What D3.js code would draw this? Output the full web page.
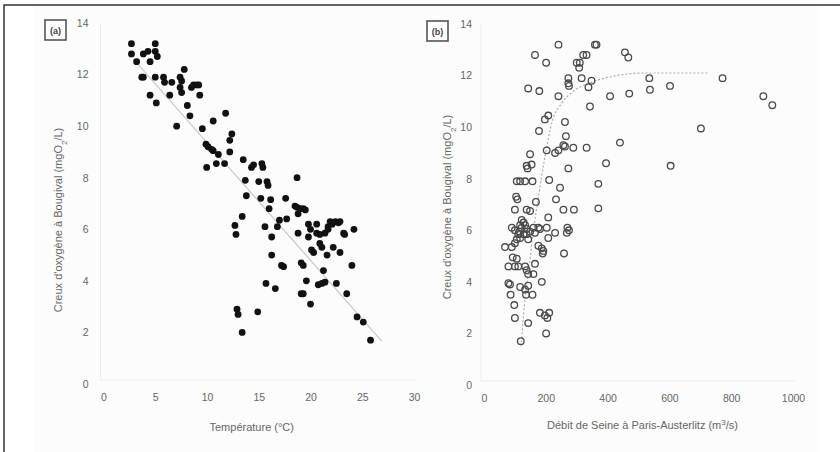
<!DOCTYPE html>
<html>
<head>
<meta charset="utf-8">
<style>
    body { margin: 0; background: white; }
    text { font-family: "Liberation Sans", Arial, sans-serif; fill: #666; }
    .titre { font-size: 11px; }
</style>
</head>
<body>
<div id="plateau"></div>
<script src="https://cdn.jsdelivr.net/npm/d3@7"></script>
<script>

//////////////////// donnees (a) ////////////////////
let tempA = [2.7, 2.7, 3.2, 3.85, 4.3, 4.5, 5.0, 5.0, 5.2, 3.7, 3.85, 5.0, 4.5, 5.1, 5.8, 5.9, 6.6, 6.4,
    7.4, 7.55, 7.4, 7.55, 7.8, 7.07, 8.1, 8.35, 8.5, 8.7, 9.0, 9.2, 9.3, 9.55, 9.9, 10.1, 10.45, 10.6,
    9.97, 10.6, 10.9, 11.1, 11.7, 11.8, 12.2, 12.2, 12.4, 12.7, 12.8, 12.9, 13.0, 13.4, 13.4, 13.5,
    13.7, 13.8, 14.3, 14.5, 15.0, 14.9, 15.2, 15.3, 15.4, 15.6, 15.7, 15.8, 15.9, 16.0, 16.15, 16.25,
    16.25, 16.6, 16.8, 17.0, 17.2, 17.4, 17.6, 17.7, 18.7, 18.5, 18.7, 18.8, 19.0, 19.3, 19.5, 18.8,
    19.1, 19.3, 19.1, 19.3, 19.6, 19.8, 20.0, 19.8, 20.0, 20.1, 20.3, 20.6, 20.6, 20.9, 20.75, 21.1,
    20.9, 21.1, 21.25, 21.4, 21.6, 21.4, 21.7, 21.9, 22.1, 22.4, 22.7, 22.85, 21.7, 22.2, 22.5, 22.85,
    23.2, 23.3, 23.5, 24.0, 24.2, 24.5, 25.1, 25.8];
let oxyA = [13.2, 12.8, 12.5, 12.8, 12.9, 12.5, 13.2, 12.9, 12.7, 11.9, 11.9, 11.9, 11.2, 10.9, 11.9, 11.7, 11.7, 11.2,
    11.9, 11.75, 11.5, 11.3, 12.2, 10.0, 10.8, 10.4, 11.5, 11.6, 11.6, 11.6, 11.2, 9.9, 9.3, 9.2, 9.1, 9.05,
    8.4, 10.2, 8.55, 8.9, 8.55, 10.5, 9.0, 9.45, 9.7, 6.15, 5.8, 2.9, 2.7, 2.0, 6.5, 8.7,
    7.9, 7.3, 8.4, 8.5, 7.85, 2.8, 7.2, 8.55, 8.4, 6.1, 3.9, 7.85, 7.7, 6.8, 7.15, 5.7,
    5.0, 3.7, 6.1, 6.35, 4.6, 4.55, 7.2, 6.4, 8.0, 6.9, 6.85, 6.6, 6.8, 6.8, 6.75, 5.85,
    4.7, 4.6, 3.5, 3.5, 4.0, 6.2, 6.0, 5.7, 3.1, 5.2, 5.1, 6.2, 5.85, 5.8, 3.85, 3.9,
    5.45, 5.3, 4.4, 3.95, 5.0, 5.85, 6.1, 6.3, 6.2, 6.3, 6.25, 6.3, 6.0, 5.3, 3.9, 5.1,
    5.85, 5.8, 3.5, 4.6, 6.0, 2.6, 2.4, 1.7];
// droite de regression
let fitTempA = [2.9, 26.9];
let fitOxyA = [12.6, 1.65];

//////////////////// donnees (b) ////////////////////
let debitB = [241, 165, 201, 300, 310, 321, 308, 332, 359, 364, 273, 273, 275, 316, 348, 338, 343, 143, 179, 241,
    408, 470, 456, 467, 535, 537, 602, 772, 904, 933, 702, 604, 440, 395, 370, 370, 332, 289, 262, 257,
    273, 265, 262, 230, 241, 203, 208, 197, 178, 149, 138, 141, 154, 106, 117, 133, 157, 211, 246, 233,
    168, 104, 108, 100, 138, 149, 257, 291, 208, 270, 275, 268, 230, 208, 259, 176, 181, 203, 160, 165,
    176, 187, 192, 190, 90, 100, 111, 117, 122, 128, 133, 138, 128, 117, 106, 138, 143, 149, 114, 122,
    68, 90, 100, 93, 106, 79, 100, 111, 133, 138, 143, 160, 165, 84, 79, 86, 117, 133, 143, 136,
    157, 187, 98, 100, 143, 181, 197, 211, 205, 201, 119];
let oxyB = [13.2, 12.8, 12.5, 12.5, 12.5, 12.8, 12.3, 12.8, 13.2, 13.2, 11.9, 11.7, 11.6, 11.9, 11.8, 11.55, 10.8, 11.5, 11.4, 11.2,
    11.2, 11.3, 12.9, 12.7, 11.9, 11.45, 11.6, 11.9, 11.2, 10.85, 9.95, 8.5, 9.4, 8.6, 6.85, 7.8, 9.2, 9.2, 9.25, 9.3,
    8.4, 9.65, 10.2, 9.0, 9.1, 9.1, 10.45, 10.3, 9.85, 8.95, 8.5, 8.4, 8.55, 7.9, 7.9, 7.9, 7.9, 7.95, 7.65, 7.2,
    7.1, 7.3, 7.2, 6.8, 6.8, 6.75, 6.8, 6.8, 6.5, 6.1, 6.0, 5.9, 5.9, 5.7, 5.1, 6.1, 6.05, 6.1, 6.1, 5.9,
    5.4, 5.3, 5.2, 5.1, 6.1, 6.0, 5.85, 6.2, 6.4, 6.3, 6.2, 6.05, 5.85, 5.7, 5.65, 5.85, 5.65, 5.95, 5.95, 6.1,
    5.35, 5.35, 5.5, 4.95, 4.9, 4.6, 4.6, 4.6, 4.6, 4.45, 4.3, 4.3, 4.7, 3.9, 3.95, 3.5, 3.8, 3.7, 3.85, 3.5,
    3.5, 4.0, 3.1, 2.6, 2.4, 2.8, 2.7, 2.8, 2.6, 2.0, 1.7];
// courbe d'ajustement
let fitDebitB = [120, 130, 145, 160, 175, 195, 220, 250, 290, 350, 430, 520, 730];
let fitOxyB = [1.5, 3.0, 4.5, 6.0, 7.2, 8.7, 10.2, 10.9, 11.4, 11.75, 12.0, 12.1, 12.1];

let yTicks = [0, 2, 4, 6, 8, 10, 12, 14];
let xTicksA = [0, 5, 10, 15, 20, 25, 30];
let xTicksB = [0, 200, 400, 600, 800, 1000];

//////////////////// page ////////////////////
let W = 840, H = 452;
let svg = d3.select('#plateau').append('svg')
    .attr('width', W)
    .attr('height', H);

svg.append('rect')
    .attr('x', 33).attr('y', 5)
    .attr('width', 785).attr('height', H - 5)
    .attr('fill', '#fcfcfc');

svg.append('path')
    .attr('d', `M 4 ${H} V 5 H ${W}`)
    .attr('fill', 'none')
    .attr('stroke', '#333')
    .attr('stroke-width', 1.5);

//////////////////// function gen ////////////////////
function genPanneau(opt) {
    let x = d3.scaleLinear().domain(opt.xDomain).range(opt.xRange);
    let y = d3.scaleLinear().domain([0, 14]).range(opt.yRange);
    let g = svg.append('g');

    // axes tres pales
    g.append('path')
        .attr('d', `M ${opt.xRange[0] - 3} ${opt.yRange[1]} V ${opt.yRange[0] - 4} H ${opt.xRange[1] + 2}`)
        .attr('fill', 'none')
        .attr('stroke', '#ececec');

    let axeX = g.append('g')
        .attr('transform', `translate(0, ${opt.yRange[0]})`)
        .call(d3.axisBottom(x).tickValues(opt.xTicks).tickFormat(d3.format('d')).tickSize(0).tickPadding(10));
    let axeY = g.append('g')
        .attr('transform', `translate(${opt.xRange[0]}, 0)`)
        .call(d3.axisLeft(y).tickValues(yTicks).tickFormat(d3.format('d')).tickSize(0).tickPadding(opt.padY));
    [axeX, axeY].forEach(a => {
        a.select('.domain').remove();
        a.selectAll('text')
            .attr('fill', '#666')
            .attr('font-size', 10.5)
            .style('font-family', '"Liberation Sans", Arial, sans-serif');
    });

    // ajustement
    let pts = d3.zip(opt.fitX, opt.fitY);
    g.append('path')
        .datum(pts)
        .attr('d', d3.line().x(d => x(d[0])).y(d => y(d[1])).curve(d3.curveMonotoneX))
        .attr('fill', 'none')
        .attr('stroke', opt.fitColor)
        .attr('stroke-width', 1.2)
        .attr('stroke-dasharray', opt.fitDash);

    // points
    let data = d3.zip(opt.xs, opt.ys);
    g.selectAll('circle.pt').data(data).enter().append('circle')
        .attr('class', 'pt')
        .attr('cx', d => x(d[0]))
        .attr('cy', d => y(d[1]))
        .attr('r', opt.plein ? 3.4 : 3.3)
        .attr('fill', opt.plein ? '#111' : 'none')
        .attr('stroke', opt.plein ? 'none' : '#4a4a4a')
        .attr('stroke-width', 1.3);

    // titres
    g.append('text')
        .classed('titre', true)
        .attr('x', (opt.xRange[0] + opt.xRange[1]) / 2 + opt.dxTitre)
        .attr('y', opt.yTitreX)
        .attr('text-anchor', 'middle')
        .html(opt.titreX);
    g.append('text')
        .classed('titre', true)
        .attr('transform', `translate(${opt.xTitreY}, ${opt.yTitreYc}) rotate(-90)`)
        .attr('text-anchor', 'middle')
        .html('Creux d\'oxygène à Bougival (mgO<tspan baseline-shift="sub" font-size="8">2</tspan>/L)');

    // etiquette (a) / (b)
    g.append('rect')
        .attr('x', opt.lab[0]).attr('y', opt.lab[1])
        .attr('width', 21).attr('height', 20)
        .attr('fill', 'white')
        .attr('stroke', '#555')
        .attr('stroke-width', 1.6);
    g.append('text')
        .attr('x', opt.lab[0] + 10.5).attr('y', opt.lab[1] + 13.5)
        .attr('text-anchor', 'middle')
        .attr('font-size', 9)
        .attr('font-weight', 'bold')
        .style('fill', '#444')
        .text(opt.nom);
}

genPanneau({
    nom: '(a)', lab: [45, 20],
    xDomain: [0, 30], xRange: [103.5, 414], yRange: [384, 23],
    xTicks: xTicksA, padY: 15,
    xs: tempA, ys: oxyA, plein: true,
    fitX: fitTempA, fitY: fitOxyA, fitColor: '#cfc6bc', fitDash: null,
    titreX: 'Température (°C)', dxTitre: -7, yTitreX: 431,
    xTitreY: 62, yTitreYc: 220
});

genPanneau({
    nom: '(b)', lab: [427, 21],
    xDomain: [0, 1000], xRange: [484, 793], yRange: [385, 24],
    xTicks: xTicksB, padY: 12,
    xs: debitB, ys: oxyB, plein: false,
    fitX: fitDebitB, fitY: fitOxyB, fitColor: '#b5aca3', fitDash: '2,2',
    titreX: 'Débit de Seine à Paris-Austerlitz (m<tspan baseline-shift="super" font-size="8">3</tspan>/s)', dxTitre: 4, yTitreX: 429,
    xTitreY: 451, yTitreYc: 207
});

</script>
</body>
</html>
